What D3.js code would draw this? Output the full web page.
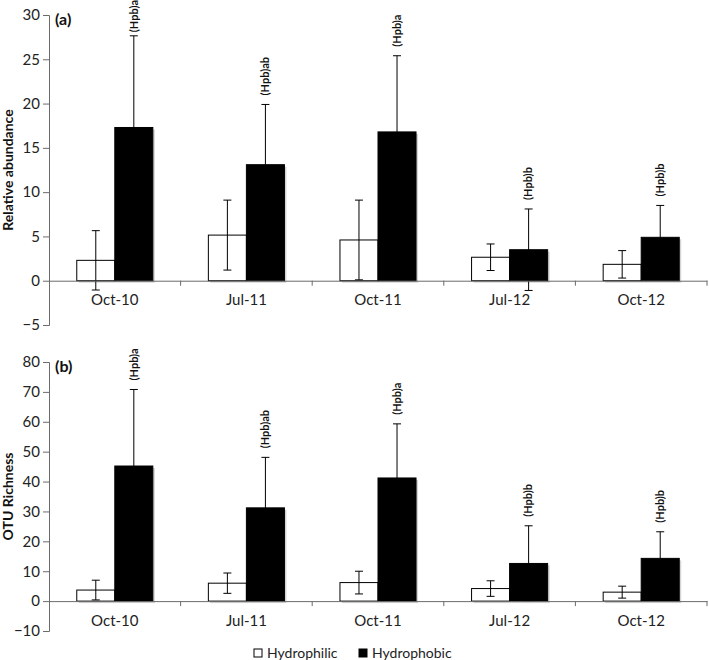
<!DOCTYPE html>
<html><head><meta charset="utf-8">
<script src="https://cdn.jsdelivr.net/npm/d3@7"></script>
<style>body{margin:0;background:#fff}svg{display:block}text{font-family:Lato,"Open Sans",sans-serif}</style>
</head><body><svg id="c" width="709" height="660"></svg>
<script>
const categories = ["Oct-10","Jul-11","Oct-11","Jul-12","Oct-12"];
const series = ["Hydrophilic","Hydrophobic"];
// Panel (a) Relative abundance
const relPhilic = [2.3, 5.15, 4.6, 2.65, 1.85];
const relPhilicErr = [3.35, 3.95, 4.5, 1.5, 1.55];
const relPhobic = [17.3, 13.1, 16.8, 3.5, 4.9];
const relPhobicErr = [10.35, 6.8, 8.6, 4.6, 3.6];
// Panel (b) OTU richness
const otuPhilic = [3.7, 6.0, 6.2, 4.2, 3.0];
const otuPhilicErr = [3.3, 3.4, 3.8, 2.6, 2.0];
const otuPhobic = [45.2, 31.2, 41.2, 12.6, 14.3];
const otuPhobicErr = [25.6, 16.9, 18.1, 12.6, 8.9];
const sigLabels = ["(Hpb)a","(Hpb)ab","(Hpb)a","(Hpb)b","(Hpb)b"];
const relTicks = [-5,0,5,10,15,20,25,30];
const otuTicks = [-10,0,10,20,30,40,50,60,70,80];

const svg = d3.select("#c");
const x = d3.scaleBand().domain(categories).range([49, 707]).paddingInner(0).paddingOuter(0);
const xs = d3.scaleBand().domain(series).range([0, x.bandwidth()]).paddingInner(0).paddingOuter(0.73);

function panel(cfg){
  const y = d3.scaleLinear().domain(cfg.domain).range(cfg.range);
  const g = svg.append("g");
  const axisColor = "#6b6b6b";
  const ya = g.append("g").attr("transform","translate(49,0)")
    .call(d3.axisLeft(y).tickValues(cfg.ticks).tickSize(6).tickPadding(3).tickFormat(d=> d<0 ? "\u2212"+Math.abs(d) : d));
  ya.select(".domain").attr("stroke",axisColor);
  ya.selectAll(".tick line").attr("stroke",axisColor);
  ya.selectAll(".tick text").attr("font-size",15).attr("fill","#222").attr("font-family","Lato,sans-serif");
  g.append("text").attr("transform",`translate(13,${(cfg.range[0]+cfg.range[1])/2}) rotate(-90)`)
    .attr("text-anchor","middle").attr("font-weight","bold").attr("font-size",14).attr("fill","#111").text(cfg.title);
  g.append("text").attr("x",55).attr("y",y(cfg.domain[1])+10).attr("font-weight","bold").attr("font-size",16).attr("fill","#111").text(cfg.letter);

  const data = categories.map((c,i)=>({c, vals:[{s:series[0],v:cfg.philic[i],e:cfg.philicErr[i]},{s:series[1],v:cfg.phobic[i],e:cfg.phobicErr[i]}], lab:sigLabels[i]}));
  const grp = g.selectAll(".grp").data(data).join("g").attr("transform",d=>`translate(${x(d.c)},0)`);
  grp.selectAll(".sh").data(d=>d.vals).join("rect")
    .attr("x",d=>xs(d.s)+2).attr("width",xs.bandwidth())
    .attr("y",d=>y(Math.max(0,d.v))+2).attr("height",d=>Math.abs(y(d.v)-y(0)))
    .attr("fill","#d4d4d4");
  grp.selectAll(".bar").data(d=>d.vals).join("rect")
    .attr("x",d=>xs(d.s)).attr("width",xs.bandwidth())
    .attr("y",d=>y(Math.max(0,d.v))).attr("height",d=>Math.abs(y(d.v)-y(0)))
    .attr("fill",d=>d.s==="Hydrophilic"?"#fff":"#000").attr("stroke","#000").attr("stroke-width",1);
  const xa = g.append("g").attr("transform",`translate(0,${y(0)})`)
    .call(d3.axisBottom(x).tickSize(0).tickPadding(14));
  xa.select(".domain").attr("stroke",axisColor);
  xa.selectAll(".tick text").attr("font-size",15).attr("fill","#222").attr("font-family","Lato,sans-serif");
  g.selectAll(".bt").data(categories).join("line")
    .attr("x1",d=>x(d)+x.bandwidth()).attr("x2",d=>x(d)+x.bandwidth())
    .attr("y1",y(0)).attr("y2",y(0)+5).attr("stroke",axisColor);
  const eb = grp.selectAll(".eb").data(d=>d.vals).join("g").attr("transform",d=>`translate(${xs(d.s)+xs.bandwidth()/2},0)`);
  eb.append("line").attr("y1",d=>y(d.v+d.e)).attr("y2",d=>y(d.v-d.e)).attr("stroke","#000").attr("stroke-width",1);
  eb.append("line").attr("x1",-4).attr("x2",4).attr("y1",d=>y(d.v+d.e)).attr("y2",d=>y(d.v+d.e)).attr("stroke","#000");
  eb.append("line").attr("x1",-4).attr("x2",4).attr("y1",d=>y(d.v-d.e)).attr("y2",d=>y(d.v-d.e)).attr("stroke","#000");
  grp.each(function(d){
    const ph = d.vals[1];
    const cx = xs(ph.s)+xs.bandwidth()/2;
    const t = d3.select(this).append("text").attr("font-size",11).attr("font-weight","bold").attr("fill","#111")
      .attr("dy","0.35em").text(d.lab);
    const len = t.node().getComputedTextLength();
    let start = y(ph.v+ph.e) - 9;
    if (start - len < cfg.minTop) start = cfg.minTop + len;
    t.attr("transform",`translate(${cx},${start}) rotate(-90)`);
  });
}

panel({domain:[-5,30], range:[325,15], ticks:relTicks, title:"Relative abundance", letter:"(a)",
  philic:relPhilic, philicErr:relPhilicErr, phobic:relPhobic, phobicErr:relPhobicErr, minTop:0});
panel({domain:[-10,80], range:[631,362], ticks:otuTicks, title:"OTU Richness", letter:"(b)",
  philic:otuPhilic, philicErr:otuPhilicErr, phobic:otuPhobic, phobicErr:otuPhobicErr, minTop:338});

const leg = svg.append("g").attr("transform","translate(254,649)");
series.forEach((s,i)=>{
  const lx = i===0?0:105;
  leg.append("rect").attr("x",lx).attr("y",0).attr("width",8).attr("height",8)
    .attr("fill",s==="Hydrophilic"?"#fff":"#000").attr("stroke","#000");
  leg.append("text").attr("x",lx+13).attr("y",4).attr("dy","0.35em").attr("font-size",14).attr("fill","#222").text(s);
});
</script></body></html>
